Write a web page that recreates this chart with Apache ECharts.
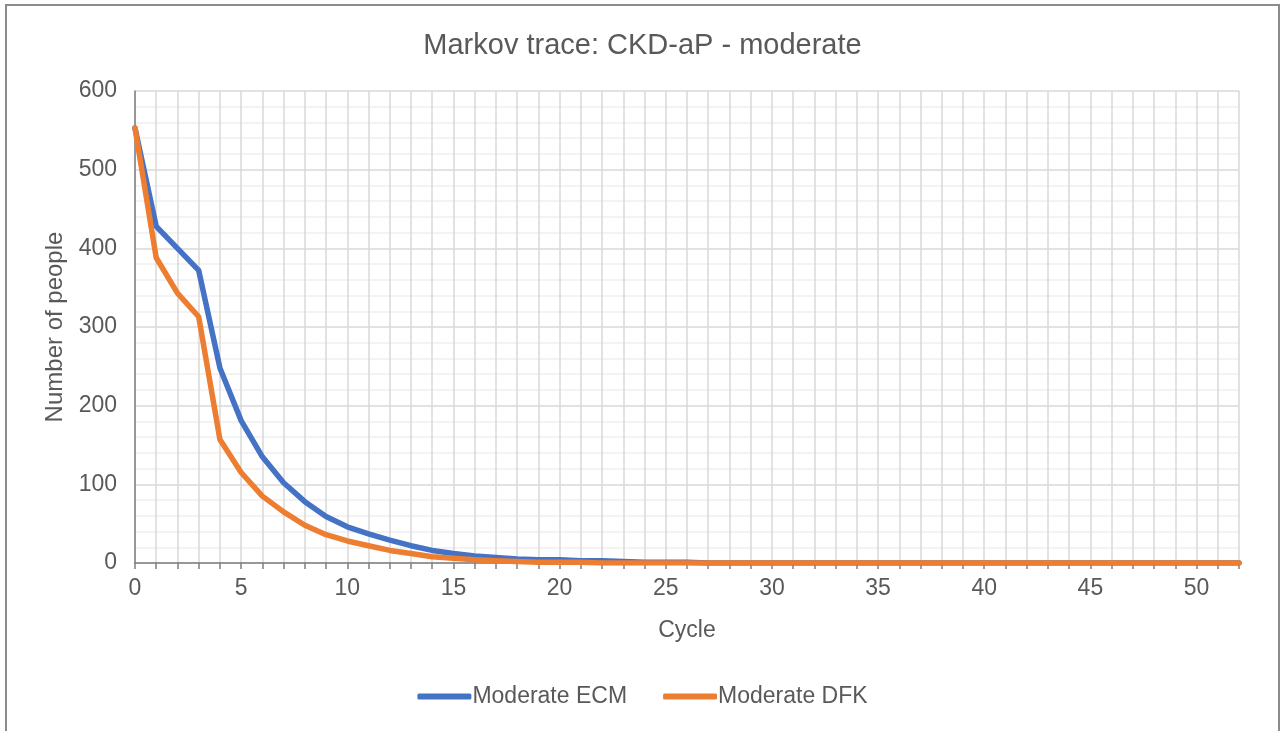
<!DOCTYPE html>
<html>
<head>
<meta charset="utf-8">
<title>Markov trace: CKD-aP - moderate</title>
<script src="https://cdn.jsdelivr.net/npm/echarts@6/dist/echarts.min.js"></script>
<style>
  html, body { margin: 0; padding: 0; background: #fff; overflow: hidden; }
  #frame { position: absolute; left: 5px; top: 4px; width: 1275px; height: 740px; border: 2px solid #8c8c8c; box-sizing: border-box; }
  #chart { position: absolute; left: 0; top: 0; width: 1285px; height: 731px; }
</style>
</head>
<body>
<div id="frame"></div>
<div id="chart"></div>
<script>
// cycles 0..52
const cycles = []
for (let i = 0; i <= 52; i++) cycles.push(String(i))

const moderateECM = [553, 428, 400, 372, 248, 181, 135, 102, 78, 59, 46, 37, 29, 22, 16, 12, 9, 7, 5, 4, 4, 3, 3, 2, 1, 1, 1, 0, 0, 0,
  0, 0, 0, 0, 0, 0, 0, 0, 0, 0, 0, 0, 0, 0, 0, 0, 0, 0, 0, 0, 0, 0, 0]
const moderateDFK = [553, 388, 343, 313, 157, 115, 85, 65, 48, 36, 28, 22, 16, 12, 8, 6, 4, 3, 2, 1, 1, 1, 0, 0, 0, 0, 0, 0, 0, 0,
  0, 0, 0, 0, 0, 0, 0, 0, 0, 0, 0, 0, 0, 0, 0, 0, 0, 0, 0, 0, 0, 0, 0]

const textColor = '#595959'
const chart = echarts.init(document.getElementById('chart'))

chart.setOption({
  animation: false,
  textStyle: { fontFamily: 'Liberation Sans, Arial, sans-serif' },
  title: {
    text: 'Markov trace: CKD-aP - moderate',
    left: 'center',
    top: 26,
    textStyle: { fontSize: 29, fontWeight: 'normal', color: textColor }
  },
  grid: { left: 135, right: 46, top: 91, bottom: 168 },
  legend: {
    bottom: 18,
    left: 'center',
    itemWidth: 54,
    itemHeight: 6,
    itemGap: 36,
    icon: 'roundRect',
    textStyle: { fontSize: 23, color: textColor, padding: [0, 0, 0, -4] },
    data: ['Moderate ECM', 'Moderate DFK']
  },
  xAxis: {
    type: 'category',
    data: cycles,
    boundaryGap: false,
    name: 'Cycle',
    nameLocation: 'middle',
    nameGap: 56,
    nameTextStyle: { fontSize: 23, color: textColor },
    axisLine: { lineStyle: { color: '#7f7f7f', width: 1.5 } },
    axisTick: { interval: 0, length: 6, lineStyle: { color: '#7f7f7f', width: 1.5 } },
    axisLabel: { interval: 4, fontSize: 23, color: textColor, margin: 14 },
    splitLine: { show: true, interval: 0, lineStyle: { color: '#d9d9d9', width: 1.5 } }
  },
  yAxis: {
    type: 'value',
    min: 0,
    max: 600,
    interval: 100,
    name: 'Number of people',
    nameLocation: 'middle',
    nameGap: 68,
    nameTextStyle: { fontSize: 24, color: textColor },
    axisLine: { show: true, lineStyle: { color: '#7f7f7f', width: 1.5 } },
    axisTick: { show: false },
    axisLabel: { fontSize: 23, color: textColor, margin: 18 },
    splitLine: { show: true, lineStyle: { color: '#d9d9d9', width: 1.5 } },
    minorTick: { show: false, splitNumber: 5 },
    minorSplitLine: { show: true, lineStyle: { color: '#efefef', width: 1.5 } }
  },
  series: [
    {
      name: 'Moderate ECM',
      type: 'line',
      data: moderateECM,
      showSymbol: false,
      symbol: 'none',
      itemStyle: { color: '#4472c4' },
      lineStyle: { color: '#4472c4', width: 5.5, cap: 'round', join: 'round' }
    },
    {
      name: 'Moderate DFK',
      type: 'line',
      data: moderateDFK,
      showSymbol: false,
      symbol: 'none',
      itemStyle: { color: '#ed7d31' },
      lineStyle: { color: '#ed7d31', width: 5.5, cap: 'round', join: 'round' }
    }
  ]
})
</script>
</body>
</html>
